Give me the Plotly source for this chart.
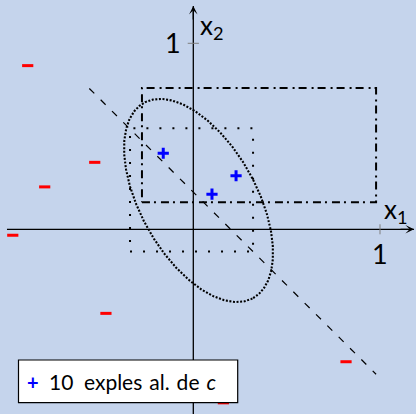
import numpy as np
import plotly.graph_objects as go

# Negative examples (outside the concept)
neg_x1 = [-0.887, -0.528, -0.796, -0.967, -0.468, 0.818, 0.161]
neg_x2 = [0.880, 0.360, 0.228, -0.032, -0.452, -0.712, -0.933]

# Positive examples (inside the concept c)
pos_x1 = [-0.161, 0.229, 0.100]
pos_x2 = [0.409, 0.288, 0.189]

# Candidate hypotheses
big_rect = {"x1": [-0.275, 0.979], "x2": [0.145, 0.76]}      # dash-dot rectangle
small_rect = {"x1": [-0.339, 0.32], "x2": [-0.12, 0.543]}    # loosely dotted rectangle
ellipse = {"center": (0.028, 0.155), "a": 0.6007, "b": 0.3105, "angle_deg": -60.85}
halfplane = {"sum": 0.2, "x1_range": [-0.557, 0.979]}        # line x1 + x2 = 0.2

# Axes and ticks
x_range = [-1.0354, 1.1928]
y_range = [-0.993, 1.2328]
x_axis_span = [-0.998, 1.182]
y_axis_span = [-0.993, 1.2005]
x_ticks = [1]
y_ticks = [1]
tick_labels = ["1"]

BG = "#c5d4ec"
FONT = "Lato"

fig = go.Figure()

# coordinate axes (lines; arrow heads added as annotations below)
fig.add_trace(go.Scatter(x=x_axis_span, y=[0, 0], mode="lines",
                         line=dict(color="black", width=1.3)))
fig.add_trace(go.Scatter(x=[0, 0], y=y_axis_span, mode="lines",
                         line=dict(color="black", width=1.3)))


def rect_path(r):
    (a, b), (c, d) = r["x1"], r["x2"]
    return [a, b, b, a, a], [c, c, d, d, c]


# dash-dot rectangle
rx, ry = rect_path(big_rect)
fig.add_trace(go.Scatter(x=rx, y=ry, mode="lines",
                         line=dict(color="black", width=2, dash="8px,4px,2px,5px")))

# loosely dotted rectangle
rx, ry = rect_path(small_rect)
fig.add_trace(go.Scatter(x=rx, y=ry, mode="lines",
                         line=dict(color="black", width=2, dash="2px,11px")))

# dotted ellipse
t = np.linspace(0, 2 * np.pi, 400)
th = np.deg2rad(ellipse["angle_deg"])
cx, cy = ellipse["center"]
ex = cx + ellipse["a"] * np.cos(t) * np.cos(th) - ellipse["b"] * np.sin(t) * np.sin(th)
ey = cy + ellipse["a"] * np.cos(t) * np.sin(th) + ellipse["b"] * np.sin(t) * np.cos(th)
fig.add_trace(go.Scatter(x=ex, y=ey, mode="lines",
                         line=dict(color="black", width=2.1, dash="2px,1.6px")))

# dashed separating line
lx = np.array(halfplane["x1_range"])
ly = halfplane["sum"] - lx
fig.add_trace(go.Scatter(x=lx, y=ly, mode="lines",
                         line=dict(color="black", width=1.2, dash="7px,9px")))

# examples
fig.add_trace(go.Scatter(x=neg_x1, y=neg_x2, mode="markers",
                         marker=dict(symbol="line-ew", size=8,
                                     line=dict(color="#ff0000", width=3))))
fig.add_trace(go.Scatter(x=pos_x1, y=pos_x2, mode="markers",
                         marker=dict(symbol="cross-thin", size=8,
                                     line=dict(color="#0000ff", width=3))))

# arrow heads at the ends of the axes
fig.add_annotation(x=x_axis_span[1], y=0, ax=x_axis_span[1] - 0.08, ay=0,
                   axref="x", ayref="y", xref="x", yref="y", text="", showarrow=True,
                   arrowhead=3, arrowsize=1.1, arrowwidth=1.3, arrowcolor="black",
                   standoff=0, startstandoff=0)
fig.add_annotation(x=0, y=y_axis_span[1], ax=0, ay=y_axis_span[1] - 0.08,
                   axref="x", ayref="y", xref="x", yref="y", text="", showarrow=True,
                   arrowhead=3, arrowsize=1.1, arrowwidth=1.3, arrowcolor="black",
                   standoff=0, startstandoff=0)

# tick marks
for xt in x_ticks:
    fig.add_shape(type="line", x0=xt, x1=xt, y0=-0.027, y1=0.027,
                  line=dict(color="#7f7f7f", width=1))
for yt in y_ticks:
    fig.add_shape(type="line", x0=-0.03, x1=0.03, y0=yt, y1=yt,
                  line=dict(color="#7f7f7f", width=1))

# tick labels
for xt, lab in zip(x_ticks, tick_labels):
    fig.add_annotation(x=xt, y=-0.128, text=lab, showarrow=False,
                       font=dict(family=FONT, size=27, color="black"))
for yt, lab in zip(y_ticks, tick_labels):
    fig.add_annotation(x=-0.109, y=yt + 0.004, text=lab, showarrow=False,
                       font=dict(family=FONT, size=27, color="black"))

# axis names
fig.add_annotation(x=1.012, y=0.103, text="x<sub>1</sub>", showarrow=False,
                   xanchor="left", font=dict(family=FONT, size=26, color="black"))
fig.add_annotation(x=0.026, y=1.093, text="x<sub>2</sub>", showarrow=False,
                   xanchor="left", font=dict(family=FONT, size=26, color="black"))

# legend box
fig.add_shape(type="rect", xref="paper", yref="paper",
              x0=18.5 / 416, x1=237.7 / 416, y0=1 - 402.7 / 414, y1=1 - 360 / 414,
              fillcolor="white", line=dict(color="black", width=1.2), layer="above")
legend_text = ("<span style='color:#0000ff;font-size:20px'><b>+</b></span>"
               "\u2002" + "10\u2002exples\u2004al.\u2004de\u2004<i>c</i>")
fig.add_annotation(xref="paper", yref="paper", x=25 / 416, y=1 - 381.5 / 414,
                   xanchor="left", yanchor="middle", showarrow=False,
                   text=legend_text,
                   font=dict(family=FONT, size=21, color="black"))

fig.update_layout(
    width=416, height=414,
    margin=dict(l=0, r=0, t=0, b=0),
    paper_bgcolor=BG, plot_bgcolor=BG,
    showlegend=False,
    xaxis=dict(range=x_range, visible=False, showgrid=False, zeroline=False),
    yaxis=dict(range=y_range, visible=False, showgrid=False, zeroline=False),
)

fig.write_html("out.html")
